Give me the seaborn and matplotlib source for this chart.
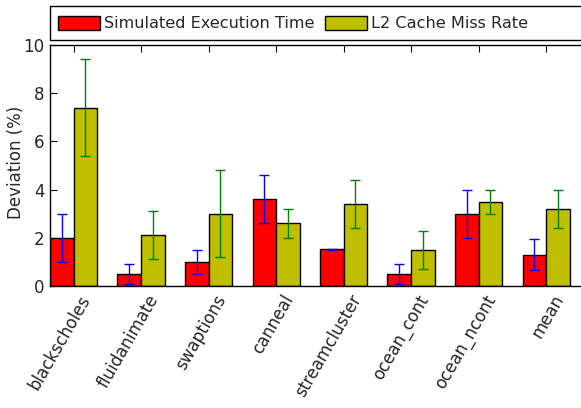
import numpy as np
import pandas as pd
import matplotlib
matplotlib.use("Agg")
import matplotlib.pyplot as plt
import seaborn as sns
from matplotlib.patches import Patch, Rectangle
from matplotlib.ticker import FixedLocator, NullFormatter, FixedFormatter

# ---- data ----
benchmarks = ["blackscholes", "fluidanimate", "swaptions", "canneal",
              "streamcluster", "ocean_cont", "ocean_ncont", "mean"]
series_names = ["Simulated Execution Time", "L2 Cache Miss Rate"]
exec_time = [2.0, 0.5, 1.0, 3.6, 1.52, 0.5, 3.0, 1.3]
exec_time_err = [1.0, 0.4, 0.5, 1.0, 0.03, 0.43, 1.0, 0.65]
l2_miss = [7.4, 2.1, 3.0, 2.6, 3.4, 1.5, 3.5, 3.2]
l2_miss_err = [2.0, 1.0, 1.8, 0.6, 1.0, 0.8, 0.5, 0.8]
yticks = [0, 2, 4, 6, 8, 10]

bar_colors = ["#ff0000", "#bfbf00"]
err_colors = ["#0000ff", "#008000"]

df = pd.DataFrame({
    "benchmark": benchmarks * 2,
    "series": [series_names[0]] * len(benchmarks) + [series_names[1]] * len(benchmarks),
    "value": exec_time + l2_miss,
})

sns.set_style("white")
plt.rcParams["font.family"] = ["DejaVu Sans"]

W, H = 581, 408
fig = plt.figure(figsize=(W / 100, H / 100), dpi=100)
ax = fig.add_axes([50 / W, 1 - 286 / H, 540 / W, (286 - 45) / H])

sns.barplot(data=df, x="benchmark", y="value", hue="series",
            palette=bar_colors, order=benchmarks, hue_order=series_names,
            width=0.7, dodge=True, errorbar=None, edgecolor="black",
            linewidth=1.0, saturation=1, ax=ax, legend=False)

# error bars at bar centres
n = len(benchmarks)
patches = list(ax.patches)[:2 * n]
for k, (vals, errs, ec) in enumerate([(exec_time, exec_time_err, err_colors[0]),
                                      (l2_miss, l2_miss_err, err_colors[1])]):
    xs = [patches[k * n + i].get_x() + patches[k * n + i].get_width() / 2 for i in range(n)]
    ax.errorbar(xs, vals, yerr=errs, fmt="none", ecolor=ec, elinewidth=1.0,
                capsize=3.3, capthick=1.0, zorder=5)

ax.set_xlim(-0.35, 7.65)
ax.set_ylim(0, 10)
ax.set_yticks(yticks)
ax.set_yticklabels([str(v) for v in yticks], fontsize=12)

# major ticks at group centres (marks only); labels on unmarked minor ticks
centres = list(range(n))
ax.xaxis.set_major_locator(FixedLocator(centres))
ax.xaxis.set_major_formatter(NullFormatter())
ax.xaxis.set_minor_locator(FixedLocator([c + 0.31 for c in centres]))
ax.xaxis.set_minor_formatter(FixedFormatter(benchmarks))
for lab in ax.xaxis.get_minorticklabels():
    lab.set_rotation(60)
    lab.set_ha("right")
    lab.set_fontsize(12)
ax.tick_params(axis="x", which="minor", length=0, pad=4, top=False, bottom=True)
ax.tick_params(axis="x", which="major", direction="in", length=5, width=0.8,
               color="black", top=True, bottom=True)
ax.tick_params(axis="y", direction="in", length=5, width=0.8, color="black",
               left=True, right=False, pad=4)

ax.set_xlabel("")
ax.set_ylabel("Deviation (%)", fontsize=12)
ax.yaxis.set_label_coords((25 - 50) / 540, (286 - 162) / 241)

for s in ax.spines.values():
    s.set_color("black")
    s.set_linewidth(1.0)

# legend box above the axes
fig.patches.append(Rectangle((50 / W, 1 - 40 / H), 600 / W, 34 / H,
                             transform=fig.transFigure, facecolor="white",
                             edgecolor="black", linewidth=1.0, zorder=1))
handles = [Patch(facecolor=bar_colors[i], edgecolor="black", linewidth=1.0,
                 label=series_names[i]) for i in range(2)]
leg = fig.legend(handles=handles, loc="center left", ncol=2,
                 bbox_to_anchor=(50 / W, 1 - 23.5 / H),
                 bbox_transform=fig.transFigure, borderaxespad=0,
                 fontsize=11.6, frameon=False, handlelength=2.6, handleheight=1.0,
                 handletextpad=0.27, borderpad=0.5, columnspacing=0.62)

fig.savefig("out.png", dpi=100)
